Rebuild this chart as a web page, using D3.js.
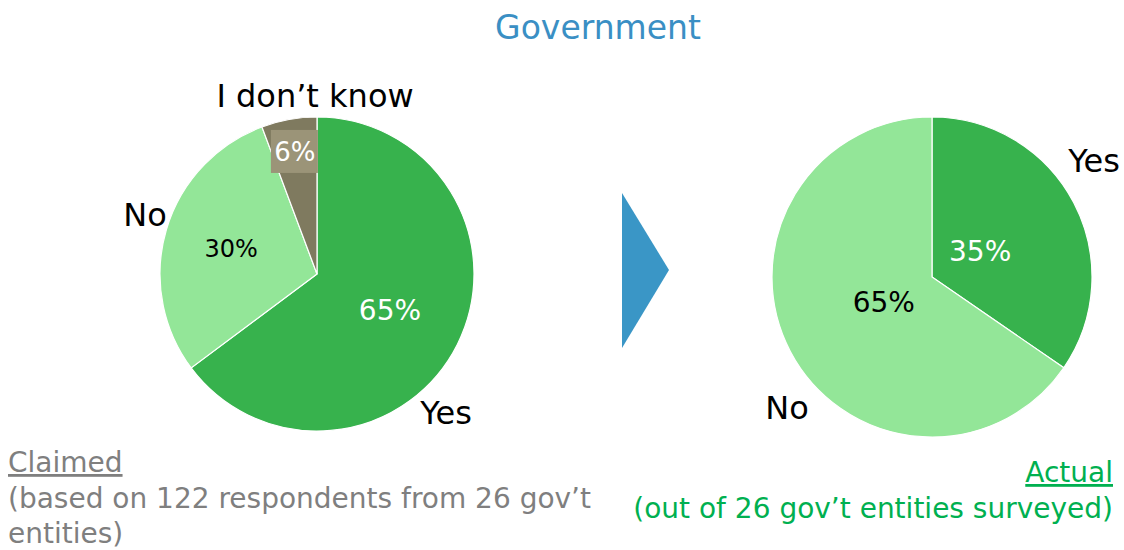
<!DOCTYPE html>
<html><head><meta charset="utf-8">
<script src="https://cdn.jsdelivr.net/npm/d3@7"></script>
<style>
html,body{margin:0;padding:0;background:#fff;}
svg{display:block;}
text{font-family:"DejaVu Sans",sans-serif;}
</style></head>
<body>
<svg id="chart" width="1124" height="550"></svg>
<script>
// ---- data ----
const claimedCategories = ["Yes", "No", "I don\u2019t know"];
const claimedValues = [64.8, 29.5, 5.7];
const actualCategories = ["Yes", "No"];
const actualValues = [34.6, 65.4];
const titleText = "Government";

const colors = {"Yes": "#37b24d", "No": "#93e698", "I don\u2019t know": "#7f7a5f"};

const svg = d3.select("#chart");

svg.append("text").attr("x", 598).attr("y", 39).attr("text-anchor", "middle")
  .attr("fill", "#3a8fc4").attr("font-size", 33).text(titleText);

function drawPie(cx, cy, r, cats, vals, pctStyle, outerLabels) {
  const g = svg.append("g").attr("transform", `translate(${cx},${cy})`);
  const data = cats.map((c, i) => ({cat: c, value: vals[i]}));
  const pie = d3.pie().value(d => d.value).sort(null);
  const arcs = pie(data);
  const arc = d3.arc().innerRadius(0).outerRadius(r);
  g.selectAll("path.slice").data(arcs).join("path").attr("class", "slice")
    .attr("d", arc).attr("fill", d => colors[d.data.cat])
    .attr("stroke", "#fff").attr("stroke-width", 1.2);
  arcs.forEach(a => {
    const st = pctStyle[a.data.cat];
    const la = d3.arc().innerRadius(r * st.k).outerRadius(r * st.k);
    const [x, y] = la.centroid(a);
    const txt = Math.round(a.data.value) + "%";
    if (st.box) {
      g.append("rect").attr("x", x - 24).attr("y", y - 22).attr("width", 47).attr("height", 43)
        .attr("fill", st.box);
    }
    g.append("text").attr("x", x).attr("y", y).attr("text-anchor", "middle")
      .attr("dominant-baseline", "central").attr("font-size", st.size)
      .attr("fill", st.color).text(txt);
  });
  outerLabels.forEach(l => {
    g.append("text").attr("x", l.dx).attr("y", l.dy).attr("text-anchor", "middle")
      .attr("dominant-baseline", "central").attr("font-size", 32).attr("fill", "#000").text(l.cat);
  });
}

drawPie(317, 274, 157, claimedCategories, claimedValues, {
  "Yes": {k: 0.52, size: 28, color: "#fff"},
  "No": {k: 0.57, size: 24, color: "#000"},
  "I don\u2019t know": {k: 0.79, size: 26, color: "#fff", box: "#9b9478"}
}, [
  {cat: "I don\u2019t know", dx: -2, dy: -178},
  {cat: "No", dx: -172, dy: -59},
  {cat: "Yes", dx: 129, dy: 139}
]);

drawPie(932, 277, 160, actualCategories, actualValues, {
  "Yes": {k: 0.34, size: 28, color: "#fff"},
  "No": {k: 0.34, size: 28, color: "#000"}
}, [
  {cat: "Yes", dx: 162, dy: -116},
  {cat: "No", dx: -145, dy: 131}
]);

// arrow
const arrowPts = [[622, 193], [669, 270], [622, 348]];
svg.append("path").attr("d", d3.line()(arrowPts) + "Z").attr("fill", "#3a96c6");

// footnotes
const gray = "#7f7f7f";
const ft = "DejaVu Sans Condensed, DejaVu Sans, sans-serif";
svg.append("text").attr("x", 8).attr("y", 472).attr("font-size", 28).attr("font-family", ft)
  .attr("fill", gray).attr("text-decoration", "underline").text("Claimed");
svg.append("text").attr("x", 8).attr("y", 508).attr("font-size", 28).attr("font-family", ft)
  .attr("fill", gray).text("(based on 122 respondents from 26 gov\u2019t");
svg.append("text").attr("x", 8).attr("y", 543).attr("font-size", 28).attr("font-family", ft)
  .attr("fill", gray).text("entities)");
const green = "#00b050";
svg.append("text").attr("x", 1113).attr("y", 482).attr("text-anchor", "end").attr("font-size", 28)
  .attr("font-family", ft).attr("fill", green).attr("text-decoration", "underline").text("Actual");
svg.append("text").attr("x", 1113).attr("y", 518).attr("text-anchor", "end").attr("font-size", 28)
  .attr("font-family", ft).attr("fill", green).text("(out of 26 gov\u2019t entities surveyed)");
</script>
</body></html>
